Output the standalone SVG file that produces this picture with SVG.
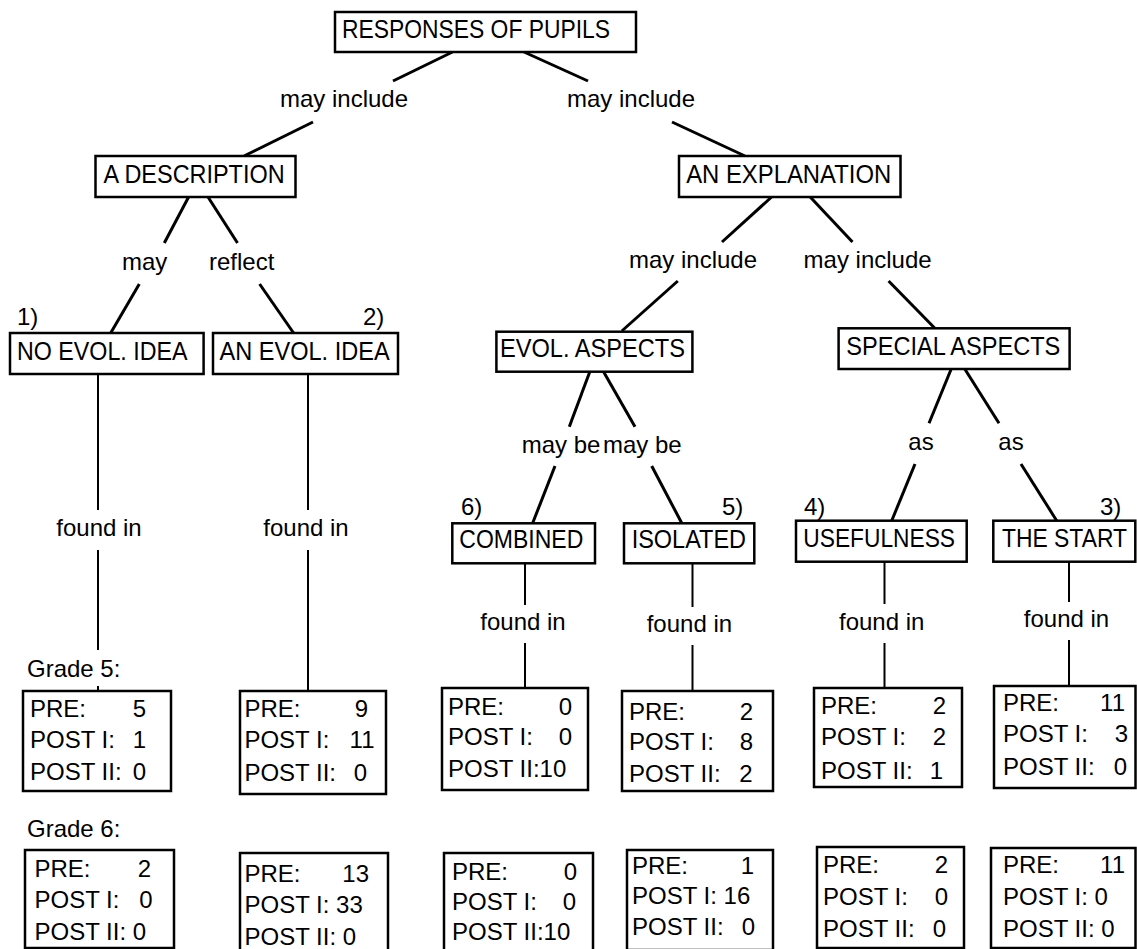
<svg xmlns="http://www.w3.org/2000/svg" width="1137" height="949" viewBox="0 0 1137 949">
  <style>
    .box { fill: #fff; stroke: #000; stroke-width: 2.5; }
    .edge { fill: none; stroke: #000; stroke-width: 3; }
    .stem { fill: none; stroke: #000; stroke-width: 2; }
    text { font-family: "Liberation Sans", Arial, sans-serif; fill: #000; }
    .title { font-size: 25px; }
    .lbl { font-size: 24px; }
    .data { font-size: 24px; }
    .num { text-anchor: end; }
    .mid { text-anchor: middle; }
  </style>
  <rect width="1137" height="949" fill="#fff"/>

  <!-- connectors -->
  <g id="connectors">
    <line class="edge" x1="452.5" y1="52" x2="393" y2="81"/>
    <line class="edge" x1="313" y1="122" x2="244" y2="156"/>
    <line class="edge" x1="524" y1="52" x2="588" y2="81"/>
    <line class="edge" x1="672" y1="122" x2="745" y2="156"/>
    <line class="edge" x1="188.6" y1="197" x2="164.3" y2="243"/>
    <line class="edge" x1="208" y1="197" x2="237.5" y2="243"/>
    <line class="edge" x1="139.3" y1="284" x2="110.7" y2="333"/>
    <line class="edge" x1="259.6" y1="284" x2="293.6" y2="333"/>
    <line class="edge" x1="771.6" y1="197" x2="722" y2="242"/>
    <line class="edge" x1="810.2" y1="197" x2="852.5" y2="242"/>
    <line class="edge" x1="677.8" y1="281" x2="621.8" y2="331"/>
    <line class="edge" x1="888.6" y1="281" x2="934.6" y2="328"/>
    <line class="edge" x1="589.7" y1="372" x2="569.3" y2="426.7"/>
    <line class="edge" x1="603.7" y1="372" x2="635" y2="426.7"/>
    <line class="edge" x1="555" y1="466" x2="532.7" y2="523"/>
    <line class="edge" x1="651.7" y1="466" x2="681.7" y2="523"/>
    <line class="edge" x1="951.2" y1="369" x2="929" y2="423.3"/>
    <line class="edge" x1="964.8" y1="369" x2="999" y2="423.3"/>
    <line class="edge" x1="915" y1="464" x2="891.7" y2="520.7"/>
    <line class="edge" x1="1021" y1="464" x2="1056.7" y2="520.7"/>
    <!-- "found in" stems -->
    <line class="stem" x1="98" y1="374" x2="98" y2="510"/>
    <line class="stem" x1="98" y1="550" x2="98" y2="650"/>
    <line class="stem" x1="98" y1="686" x2="98" y2="691"/>
    <line class="stem" x1="308" y1="374" x2="308" y2="510"/>
    <line class="stem" x1="308" y1="550" x2="308" y2="691"/>
    <line class="stem" x1="525" y1="563" x2="525" y2="605"/>
    <line class="stem" x1="525" y1="643" x2="525" y2="688"/>
    <line class="stem" x1="692.5" y1="563" x2="692.5" y2="607"/>
    <line class="stem" x1="692.5" y1="645" x2="692.5" y2="691"/>
    <line class="stem" x1="884.5" y1="562" x2="884.5" y2="604"/>
    <line class="stem" x1="884.5" y1="643" x2="884.5" y2="688"/>
    <line class="stem" x1="1069" y1="562" x2="1069" y2="602"/>
    <line class="stem" x1="1069" y1="640" x2="1069" y2="686"/>
  </g>

  <!-- link labels -->
  <g id="labels" class="lbl">
    <text x="280" y="107">may include</text>
    <text x="567" y="107">may include</text>
    <text x="122" y="270">may</text>
    <text x="209" y="270">reflect</text>
    <text x="629" y="268">may include</text>
    <text x="803.6" y="268">may include</text>
    <text x="521.7" y="452.7">may be</text>
    <text x="603" y="452.7">may be</text>
    <text x="908.3" y="450">as</text>
    <text x="998.3" y="450">as</text>
    <text class="mid" x="99" y="536">found in</text>
    <text class="mid" x="306" y="536">found in</text>
    <text class="mid" x="523" y="630">found in</text>
    <text class="mid" x="689.4" y="632">found in</text>
    <text class="mid" x="881.7" y="630">found in</text>
    <text class="mid" x="1066.5" y="627">found in</text>
    <text x="17" y="325">1)</text>
    <text x="363" y="325">2)</text>
    <text x="461" y="515">6)</text>
    <text x="722" y="515">5)</text>
    <text x="804" y="515">4)</text>
    <text x="1100" y="515">3)</text>
    <text x="27" y="677">Grade 5:</text>
    <text x="27" y="837">Grade 6:</text>
  </g>

  <!-- concept nodes -->
  <g id="responses">
    <rect class="box" x="335" y="12" width="301" height="40"/>
    <text class="title" x="342" y="38" textLength="268" lengthAdjust="spacingAndGlyphs">RESPONSES OF PUPILS</text>
  </g>
  <g id="description">
    <rect class="box" x="95.5" y="156" width="200" height="41"/>
    <text class="title" x="103.6" y="183" textLength="181" lengthAdjust="spacingAndGlyphs">A DESCRIPTION</text>
  </g>
  <g id="explanation">
    <rect class="box" x="679" y="156" width="221.5" height="41"/>
    <text class="title" x="686.2" y="183" textLength="205" lengthAdjust="spacingAndGlyphs">AN EXPLANATION</text>
  </g>
  <g id="no-evol-idea">
    <rect class="box" x="10" y="333" width="193.6" height="41"/>
    <text class="title" x="17" y="360" textLength="170.5" lengthAdjust="spacingAndGlyphs">NO EVOL. IDEA</text>
  </g>
  <g id="an-evol-idea">
    <rect class="box" x="213" y="333" width="185" height="41"/>
    <text class="title" x="219.6" y="360" textLength="170" lengthAdjust="spacingAndGlyphs">AN EVOL. IDEA</text>
  </g>
  <g id="evol-aspects">
    <rect class="box" x="496.4" y="331.7" width="196" height="40"/>
    <text class="title" x="500" y="357" textLength="185" lengthAdjust="spacingAndGlyphs">EVOL. ASPECTS</text>
  </g>
  <g id="special-aspects">
    <rect class="box" x="838.6" y="328.3" width="231" height="40.7"/>
    <text class="title" x="846.3" y="355" textLength="214" lengthAdjust="spacingAndGlyphs">SPECIAL ASPECTS</text>
  </g>
  <g id="combined">
    <rect class="box" x="452.3" y="523.3" width="142.7" height="40"/>
    <text class="title" x="459.3" y="548.3" textLength="124" lengthAdjust="spacingAndGlyphs">COMBINED</text>
  </g>
  <g id="isolated">
    <rect class="box" x="624" y="523.3" width="130.3" height="40"/>
    <text class="title" x="631.7" y="548.3" textLength="114.3" lengthAdjust="spacingAndGlyphs">ISOLATED</text>
  </g>
  <g id="usefulness">
    <rect class="box" x="796" y="520.7" width="170.7" height="41"/>
    <text class="title" x="803.3" y="546.7" textLength="151.7" lengthAdjust="spacingAndGlyphs">USEFULNESS</text>
  </g>
  <g id="the-start">
    <rect class="box" x="993.3" y="520.7" width="142" height="41"/>
    <text class="title" x="1002" y="546.7" textLength="125" lengthAdjust="spacingAndGlyphs">THE START</text>
  </g>

  <!-- grade 5 counts -->
  <g id="g5-no-evol" class="data">
    <rect class="box" x="23" y="691" width="148" height="100"/>
    <text x="30" y="717">PRE:</text><text class="num" x="146" y="717">5</text>
    <text x="30" y="748">POST I:</text><text class="num" x="146" y="748">1</text>
    <text x="30" y="780">POST II:</text><text class="num" x="146" y="780">0</text>
  </g>
  <g id="g5-an-evol" class="data">
    <rect class="box" x="240" y="691" width="146" height="103"/>
    <text x="244.4" y="717">PRE:</text><text class="num" x="368" y="717">9</text>
    <text x="244.4" y="748">POST I:</text><text class="num" x="374.5" y="748">11</text>
    <text x="244.4" y="781">POST II:</text><text class="num" x="367" y="781">0</text>
  </g>
  <g id="g5-combined" class="data">
    <rect class="box" x="442" y="688" width="146" height="102"/>
    <text x="448" y="715">PRE:</text><text class="num" x="572" y="715">0</text>
    <text x="448" y="745">POST I:</text><text class="num" x="572" y="745">0</text>
    <text x="448" y="777">POST II:10</text>
  </g>
  <g id="g5-isolated" class="data">
    <rect class="box" x="622" y="691" width="151" height="100"/>
    <text x="629" y="720">PRE:</text><text class="num" x="753" y="720">2</text>
    <text x="629" y="750">POST I:</text><text class="num" x="753" y="750">8</text>
    <text x="629" y="782">POST II:</text><text class="num" x="752.6" y="782">2</text>
  </g>
  <g id="g5-usefulness" class="data">
    <rect class="box" x="814" y="688" width="148" height="99"/>
    <text x="821" y="714">PRE:</text><text class="num" x="946" y="714">2</text>
    <text x="821" y="745">POST I:</text><text class="num" x="946" y="745">2</text>
    <text x="821" y="779">POST II:</text><text class="num" x="943" y="779">1</text>
  </g>
  <g id="g5-the-start" class="data">
    <rect class="box" x="994" y="686" width="141.5" height="102"/>
    <text x="1003" y="711">PRE:</text><text class="num" x="1125" y="711">11</text>
    <text x="1003" y="742">POST I:</text><text class="num" x="1128" y="742">3</text>
    <text x="1003" y="775">POST II:</text><text class="num" x="1127" y="775">0</text>
  </g>

  <!-- grade 6 counts -->
  <g id="g6-no-evol" class="data">
    <rect class="box" x="25" y="850" width="149" height="98"/>
    <text x="34.5" y="877">PRE:</text><text class="num" x="151" y="877">2</text>
    <text x="34.5" y="908">POST I:</text><text class="num" x="152.5" y="908">0</text>
    <text x="34.5" y="940">POST II: 0</text>
  </g>
  <g id="g6-an-evol" class="data">
    <rect class="box" x="240" y="853" width="148" height="100"/>
    <text x="244.5" y="882">PRE:</text><text class="num" x="369" y="882">13</text>
    <text x="244.5" y="913">POST I: 33</text>
    <text x="244.5" y="945">POST II: 0</text>
  </g>
  <g id="g6-combined" class="data">
    <rect class="box" x="444" y="853" width="149" height="100"/>
    <text x="452" y="880">PRE:</text><text class="num" x="577" y="880">0</text>
    <text x="452" y="910">POST I:</text><text class="num" x="576" y="910">0</text>
    <text x="452" y="940">POST II:10</text>
  </g>
  <g id="g6-isolated" class="data">
    <rect class="box" x="627" y="850" width="146" height="100"/>
    <text x="632" y="874">PRE:</text><text class="num" x="754" y="874">1</text>
    <text x="632" y="904">POST I: 16</text>
    <text x="632" y="935">POST II:</text><text class="num" x="755" y="935">0</text>
  </g>
  <g id="g6-usefulness" class="data">
    <rect class="box" x="817" y="847" width="147" height="101"/>
    <text x="823" y="873">PRE:</text><text class="num" x="948" y="873">2</text>
    <text x="823" y="905">POST I:</text><text class="num" x="948" y="905">0</text>
    <text x="823" y="937">POST II:</text><text class="num" x="946" y="937">0</text>
  </g>
  <g id="g6-the-start" class="data">
    <rect class="box" x="991" y="848" width="144.5" height="100"/>
    <text x="1003" y="873">PRE:</text><text class="num" x="1125" y="873">11</text>
    <text x="1003" y="905">POST I: 0</text>
    <text x="1003" y="937">POST II: 0</text>
  </g>
</svg>
